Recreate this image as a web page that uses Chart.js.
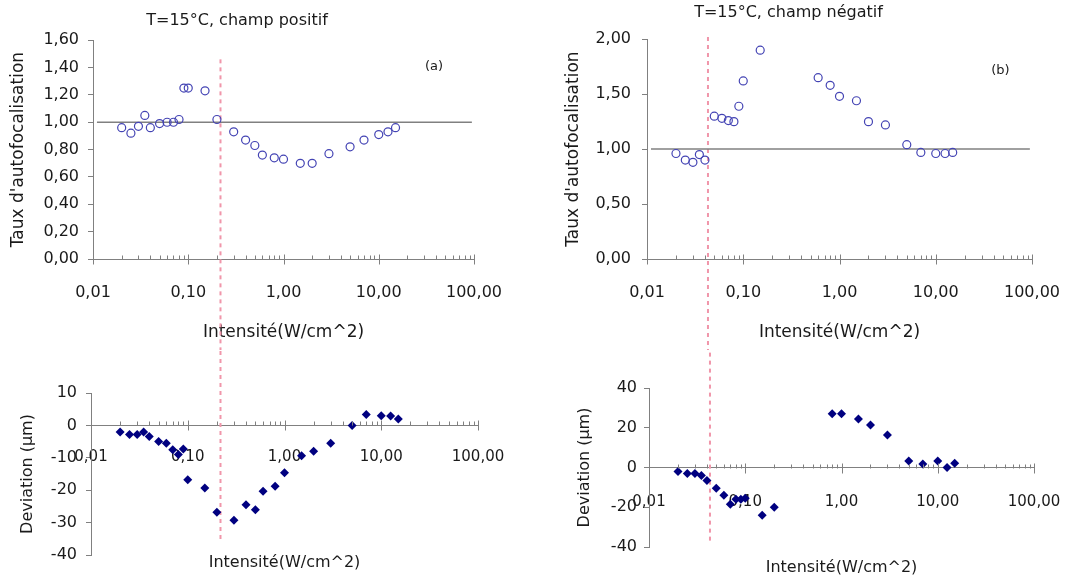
<!DOCTYPE html>
<html lang="fr">
<head>
<meta charset="utf-8">
<title>Taux d'autofocalisation et déviation, T=15°C</title>
<script src="https://cdn.jsdelivr.net/npm/chart.js@4.4.1/dist/chart.umd.min.js"></script>
<style>
  body { margin: 0; background: #fff; }
  #page { position: relative; width: 1090px; height: 583px; overflow: hidden; }
  #page canvas { position: absolute; }
</style>
</head>
<body>
<div id="page">
  <canvas id="tauxPositif" width="545" height="350" style="left:0;top:0"></canvas>
  <canvas id="tauxNegatif" width="545" height="350" style="left:545px;top:0"></canvas>
  <canvas id="devPositif" width="545" height="233" style="left:0;top:350px"></canvas>
  <canvas id="devNegatif" width="545" height="233" style="left:545px;top:350px"></canvas>
</div>
<script>
// --- données ---
// (a) champ positif
const intensA = [0.02, 0.025, 0.03, 0.035, 0.04, 0.05, 0.06, 0.07, 0.08, 0.09, 0.10, 0.15, 0.20,
                 0.30, 0.40, 0.50, 0.60, 0.80, 1.00, 1.50, 2.00, 3.00, 5.00, 7.00, 10.0, 12.5, 15.0];
const tauxA = [0.96, 0.92, 0.97, 1.05, 0.96, 0.99, 1.00, 1.00, 1.02, 1.25, 1.25, 1.23, 1.02,
               0.93, 0.87, 0.83, 0.76, 0.74, 0.73, 0.70, 0.70, 0.77, 0.82, 0.87, 0.91, 0.93, 0.96];
const deviationA = [-2, -2.8, -2.8, -2, -3.4, -5, -5.5, -7.5, -9, -7.3, -16.8, -19.3, -26.8,
                    -29.3, -24.5, -26, -20.3, -18.8, -14.6, -9.4, -8, -5.5, 0, 3.4, 3, 2.9, 2];

// (b) champ négatif
const intensB = [0.02, 0.025, 0.03, 0.035, 0.04, 0.05, 0.06, 0.07, 0.08, 0.09, 0.10, 0.15,
                 0.60, 0.80, 1.00, 1.50, 2.00, 3.00, 5.00, 7.00, 10.0, 12.5, 15.0];
const tauxB = [0.96, 0.90, 0.88, 0.95, 0.90, 1.30, 1.28, 1.26, 1.25, 1.39, 1.62, 1.90,
               1.65, 1.58, 1.48, 1.44, 1.25, 1.22, 1.04, 0.97, 0.96, 0.96, 0.97];
const intensDevB = [0.02, 0.025, 0.03, 0.035, 0.04, 0.05, 0.06, 0.07, 0.08, 0.09, 0.10, 0.15, 0.20,
                    0.80, 1.00, 1.50, 2.00, 3.00, 5.00, 7.00, 10.0, 12.5, 15.0];
const deviationB = [-2, -3, -3, -4, -6.5, -10.5, -14, -18.5, -16, -16, -15.5, -24, -20,
                    27, 27, 24.4, 21.4, 16.3, 3.3, 1.7, 3.3, 0, 2.2];

// seuils (ligne pointillée rose) et ligne de référence à 1,00
const seuilA = 0.218;
const seuilB = 0.043;
const refX = [0.011, 95];
const refY = [1, 1];

// axes
const decades = [0.01, 0.1, 1, 10, 100];
const decadeLabels = ['0,01', '0,10', '1,00', '10,00', '100,00'];
const minorMultiples = [2, 3, 4, 5, 6, 7, 8, 9];

const FONT = '"DejaVu Sans", sans-serif';
const TXT = '#1a1a1a';
const AXIS = '#808080';
const CIRCLE = '#4444b4';
const DIAMOND = '#000080';
const PINK = '#f096aa';

Chart.defaults.font.family = FONT;
Chart.defaults.color = TXT;
Chart.defaults.animation = false;

const logTicks = decades.slice(0, -1)
  .flatMap(d => [d, ...minorMultiples.map(m => +(d * m).toPrecision(3))])
  .concat(decades[decades.length - 1]);

const isDecade = v => decades.some(d => Math.abs(v / d - 1) < 1e-6);
const zip = (xs, ys) => xs.map((x, i) => ({ x, y: ys[i] }));

// petites graduations vers l'intérieur, graduations des décades traversantes
const logTickMarks = {
  id: 'logTickMarks',
  afterDraw(chart) {
    const { ctx, scales: { x, y } } = chart;
    const y0 = Math.round(y.getPixelForValue(0)) + 0.5;
    ctx.save();
    ctx.strokeStyle = AXIS;
    ctx.lineWidth = 1;
    ctx.beginPath();
    x.ticks.forEach(t => {
      const px = Math.round(x.getPixelForValue(t.value)) + 0.5;
      const major = isDecade(t.value);
      ctx.moveTo(px, y0 - (major ? 5 : 4));
      ctx.lineTo(px, major ? y0 + 5 : y0);
    });
    ctx.stroke();
    ctx.restore();
  }
};

const panelLabel = {
  id: 'panelLabel',
  afterDatasetsDraw(chart, args, opts) {
    if (!opts.text) return;
    const { ctx, scales: { x, y } } = chart;
    ctx.save();
    ctx.font = '13px ' + FONT;
    ctx.fillStyle = TXT;
    ctx.textAlign = 'center';
    ctx.textBaseline = 'middle';
    ctx.fillText(opts.text, x.getPixelForValue(opts.at[0]), y.getPixelForValue(opts.at[1]));
    ctx.restore();
  }
};

function logAxis({ position, height, labelPad, labelSize, titleSize, titlePad }) {
  return {
    type: 'logarithmic',
    position,
    min: 0.01,
    max: 100,
    afterBuildTicks: s => { s.ticks = logTicks.map(v => ({ value: v })); },
    afterFit: s => { s.height = height; },
    grid: { display: true, drawOnChartArea: false, drawTicks: false, color: AXIS },
    border: { display: true, color: AXIS, width: 1 },
    ticks: {
      autoSkip: false,
      maxRotation: 0,
      padding: labelPad,
      color: TXT,
      font: { size: labelSize },
      callback: v => {
        const i = decades.findIndex(d => Math.abs(v / d - 1) < 1e-6);
        return i < 0 ? '' : decadeLabels[i];
      }
    },
    title: {
      display: true,
      text: 'Intensité(W/cm^2)',
      color: TXT,
      font: { size: titleSize },
      padding: { top: 0, bottom: titlePad }
    }
  };
}

function linAxis({ min, max, step, width, labelPad, title, titleSize, titlePad, fmt }) {
  return {
    type: 'linear',
    min, max,
    afterFit: s => { s.width = width; },
    grid: { display: true, drawOnChartArea: false, drawTicks: true, tickLength: 5, color: AXIS },
    border: { display: true, color: AXIS, width: 1 },
    ticks: { stepSize: step, padding: labelPad, color: TXT, font: { size: 16 }, callback: fmt },
    title: { display: true, text: title, color: TXT, font: { size: titleSize }, padding: { top: titlePad, bottom: 0 } }
  };
}

function seuilLine(x, yTop, yBottom) {
  return {
    data: [{ x, y: yTop }, { x, y: yBottom }],
    showLine: true,
    borderColor: PINK,
    borderWidth: 2,
    borderDash: [4, 4],
    pointRadius: 0,
    clip: false
  };
}

function refLine() {
  return {
    data: zip(refX, refY),
    showLine: true,
    borderColor: AXIS,
    borderWidth: 1.5,
    pointRadius: 0
  };
}

const circles = data => ({
  data,
  pointStyle: 'circle',
  pointRadius: 4,
  borderWidth: 1.2,
  borderColor: CIRCLE,
  backgroundColor: 'rgba(0,0,0,0)'
});

const diamonds = data => ({
  data,
  pointStyle: 'rectRot',
  pointRadius: 4.5,
  borderWidth: 0,
  backgroundColor: DIAMOND,
  borderColor: DIAMOND
});

const comma2 = v => v.toFixed(2).replace('.', ',');

function makeChart(id, { datasets, title, padding, x, y, label }) {
  return new Chart(document.getElementById(id), {
    type: 'scatter',
    data: { datasets },
    options: {
      responsive: false,
      layout: { padding },
      events: [],
      plugins: {
        legend: { display: false },
        tooltip: { enabled: false },
        title: title ? {
          display: true,
          text: title.text,
          color: TXT,
          font: { size: 16, weight: 'normal' },
          padding: title.padding
        } : { display: false },
        panelLabel: label || {}
      },
      scales: { x, y }
    },
    plugins: [logTickMarks, panelLabel]
  });
}

// (a) taux d'autofocalisation, champ positif
makeChart('tauxPositif', {
  datasets: [circles(zip(intensA, tauxA)), refLine(), seuilLine(seuilA, 1.46, -5)],
  title: { text: 'T=15°C, champ positif', padding: { top: 11, bottom: 10 } },
  padding: { top: 0, left: 0, right: 71, bottom: 0 },
  x: logAxis({ position: 'bottom', height: 91, labelPad: 24, labelSize: 16, titleSize: 17, titlePad: 7 }),
  y: linAxis({ min: 0, max: 1.6, step: 0.2, width: 93, labelPad: 9, title: "Taux d'autofocalisation",
               titleSize: 17, titlePad: 8, fmt: comma2 }),
  label: { text: '(a)', at: [38, 1.41] }
});

// (b) taux d'autofocalisation, champ négatif
makeChart('tauxNegatif', {
  datasets: [circles(zip(intensB, tauxB)), refLine(), seuilLine(seuilB, 2.02, -5)],
  title: { text: 'T=15°C, champ négatif', padding: { top: 3, bottom: 17 } },
  padding: { top: 0, left: 0, right: 58, bottom: 0 },
  x: logAxis({ position: 'bottom', height: 91, labelPad: 24, labelSize: 16, titleSize: 17, titlePad: 7 }),
  y: linAxis({ min: 0, max: 2, step: 0.5, width: 102, labelPad: 11, title: "Taux d'autofocalisation",
               titleSize: 17, titlePad: 18, fmt: comma2 }),
  label: { text: '(b)', at: [47, 1.71] }
});

// déviation, champ positif
makeChart('devPositif', {
  datasets: [diamonds(zip(intensA, deviationA)), seuilLine(seuilA, 60, -35.4)],
  padding: { top: 43, left: 0, right: 67, bottom: 28 },
  x: logAxis({ position: { y: 0 }, height: 147, labelPad: 23, labelSize: 15, titleSize: 16, titlePad: 0 }),
  y: linAxis({ min: -40, max: 10, step: 10, width: 91, labelPad: 9, title: 'Deviation (μm)',
               titleSize: 16, titlePad: 18, fmt: v => String(v) })
});

// déviation, champ négatif
makeChart('devNegatif', {
  datasets: [diamonds(zip(intensDevB, deviationB)), seuilLine(seuilB, 90, -38)],
  padding: { top: 38, left: 0, right: 56, bottom: 36 },
  x: logAxis({ position: { y: 0 }, height: 110, labelPad: 26, labelSize: 15, titleSize: 16, titlePad: 0 }),
  y: linAxis({ min: -40, max: 40, step: 20, width: 104, labelPad: 7, title: 'Deviation (μm)',
               titleSize: 16, titlePad: 30, fmt: v => String(v) })
});
</script>
</body>
</html>
